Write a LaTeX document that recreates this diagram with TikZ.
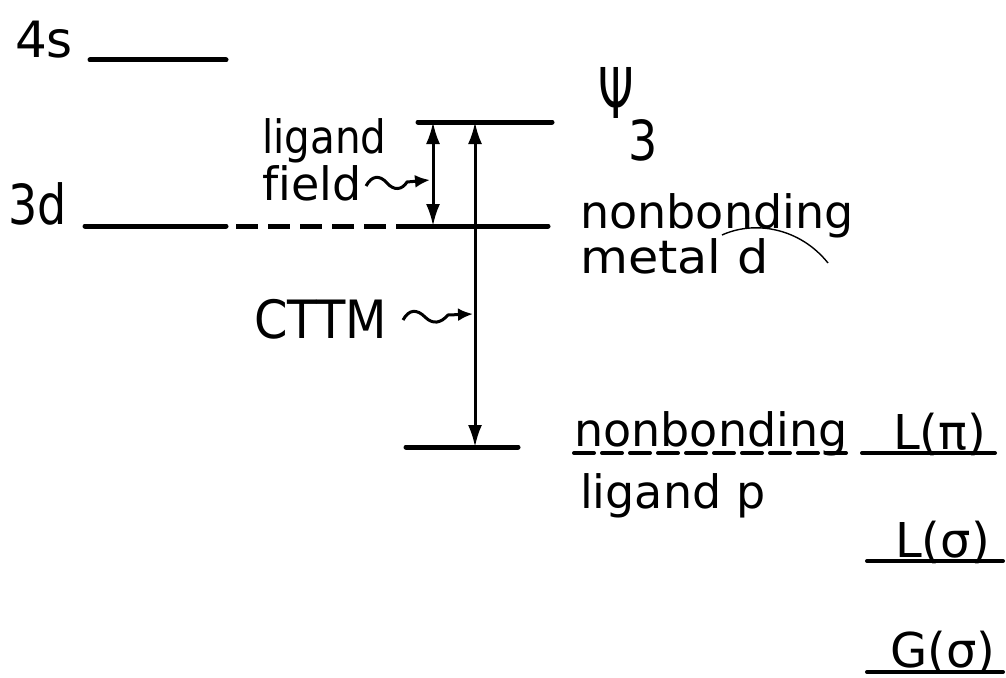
\documentclass[tikz,border=0pt]{standalone}
\usepackage{fontspec}
\setmainfont[Ligatures=NoCommon]{DejaVu Sans}
\usetikzlibrary{arrows.meta}
\begin{document}
\begin{tikzpicture}[x=1pt,y=-1pt,
  lbl/.style={inner sep=0pt,anchor=base west,font=\fontsize{46}{50}\selectfont},
  big/.style={lbl,font=\fontsize{50}{55}\selectfont},
  level/.style={line width=5pt,line cap=round},
  dashlevel/.style={line width=5pt,dash pattern=on 22pt off 10pt},
  trans/.style={line width=3pt,{Latex[length=22pt,width=14pt]}-{Latex[length=22pt,width=14pt]}},
  wiggle/.style={line width=3pt,-{Latex[length=15pt,width=13pt]}},
  uline/.style={line width=4pt,line cap=round}]
\useasboundingbox (0,0) rectangle (1006,677);
% level coordinates
\coordinate (s4a) at (90,60);   \coordinate (s4b) at (226,60);
\coordinate (d3a) at (85,226);  \coordinate (d3b) at (226,226);
\coordinate (d3c) at (418,226); \coordinate (d3d) at (548,226);
\coordinate (psia) at (418,122); \coordinate (psib) at (552,122);
\coordinate (lpa) at (406,447); \coordinate (lpb) at (518,447);
% levels
\draw[level] (s4a) -- (s4b);
\draw[level] (d3a) -- (d3b);
\draw[dashlevel] ([xshift=10pt]d3b) -- (d3c);
\draw[level] (d3c) -- (d3d);
\draw[level] (psia) -- (psib);
\draw[level] (lpa) -- (lpb);
% transitions
\coordinate (lfTop) at (433,122); \coordinate (lfBot) at (433,226);
\coordinate (ctTop) at (475,122); \coordinate (ctBot) at (475,447);
\draw[trans] (lfTop) -- (lfBot);
\draw[trans] (ctTop) -- (ctBot);
% labels
\node[big] (t4s) at (15,58) {4s};
\node[lbl,yscale=1.2] (t3d) at (8,224) {3d};
\node[lbl,xscale=0.88] (tlig) at (262,153) {ligand};
\node[lbl] (tfield) at (262,200) {field};
\node[lbl,font=\fontsize{48}{52}\selectfont,yscale=1.1] (tcttm) at (254,338) {CTTM};
\node[big,yscale=1.4,xscale=0.9] (tpsi) at (598,118) {Ψ};
\node[lbl,yscale=1.2] (t3) at (628,160) {3};
\node[lbl] (tnbm) at (580,228) {nonbonding};
\node[lbl,xscale=1.07] (tmet) at (580,273) {metal d};
\node[lbl] (tnbl) at (574,446) {nonbonding};
\node[lbl] (tligp) at (580,508) {ligand p};
\node[lbl,font=\fontsize{48}{52}\selectfont] (tLpi) at (893,449) {L(π)};
\node[lbl,font=\fontsize{48}{52}\selectfont] (tLsig) at (895,557) {L(σ)};
\node[lbl,font=\fontsize{48}{52}\selectfont] (tGsig) at (890,667) {G(σ)};
% underlines
\draw[uline,dash pattern=on 20pt off 8pt] (574,453) -- (852,453);
\draw[uline] (862,453) -- (995,453);
\draw[uline] (867,561) -- (1003,561);
\draw[uline] (867,672) -- (1003,672);
% wiggly pointers
\coordinate (lfp) at (430,180);
\coordinate (ctp) at (473,314);
\draw[wiggle] (366,186) .. controls (372,175) and (380,175) .. (387,183)
  .. controls (394,191) and (402,190) .. (407,182) -- (lfp);
\draw[wiggle] (403,320) .. controls (409,309) and (417,309) .. (425,317)
  .. controls (433,325) and (441,323) .. (448,315) -- (ctp);
% stray stroke under "nonbonding"
\draw[line width=1.4pt] (722,235) .. controls (755,220) and (800,228) .. (828,263);
\end{tikzpicture}
\end{document}
